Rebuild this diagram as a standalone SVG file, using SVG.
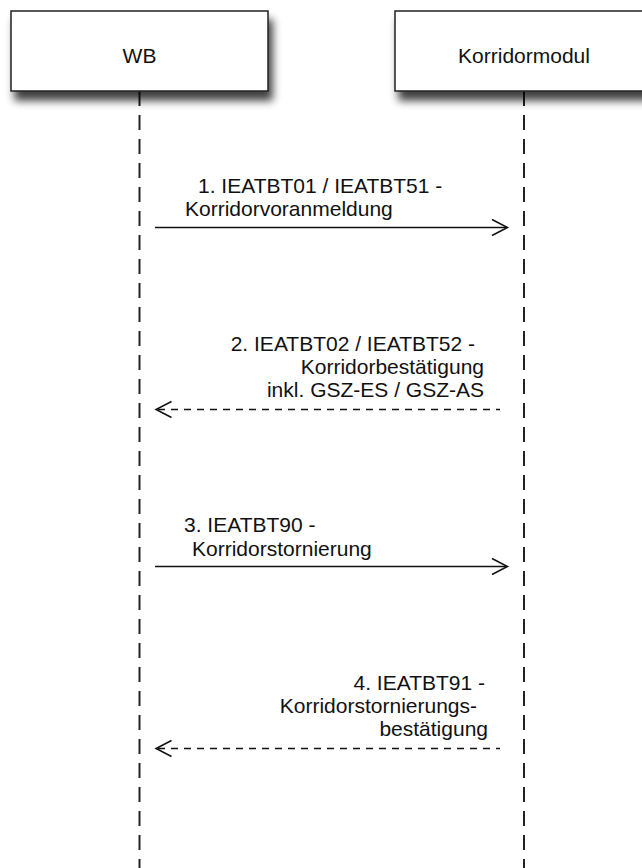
<svg xmlns="http://www.w3.org/2000/svg" width="642" height="868" viewBox="0 0 642 868">
<style>
text{font-family:"Liberation Sans",Arial,sans-serif;font-size:21px;fill:#111}
.r{text-anchor:end}
.box{fill:#fff;stroke:#222;stroke-width:1.5}
.life{stroke:#222;stroke-width:2;stroke-dasharray:15 9;fill:none}
.msg{stroke:#111;stroke-width:1.5;fill:none}
.dash{stroke-dasharray:7 6}
</style>
<defs>
<filter id="sh" x="-10%" y="-20%" width="130%" height="170%">
<feDropShadow dx="4" dy="9" stdDeviation="4.5" flood-color="#000" flood-opacity="0.75"/>
</filter>
</defs>
<g id="lifelines">
<line class="life" x1="139.5" y1="91" x2="139.5" y2="868"/>
<line class="life" x1="524" y1="91" x2="524" y2="868"/>
</g>
<g id="node-wb">
<rect class="box" x="11" y="11" width="257" height="80" filter="url(#sh)"/>
<text x="139.5" y="63" text-anchor="middle">WB</text>
</g>
<g id="node-korridormodul">
<rect class="box" x="395" y="11" width="258" height="80" filter="url(#sh)"/>
<text x="524" y="63" text-anchor="middle">Korridormodul</text>
</g>
<g id="connectors">
<line class="msg" x1="155" y1="227.5" x2="507" y2="227.5"/>
<polyline class="msg" points="492,219.5 507.5,227.5 492,235.5"/>
<line class="msg dash" x1="158" y1="409.5" x2="500" y2="409.5"/>
<polyline class="msg" points="171.5,401.5 156,409.5 171.5,417.5"/>
<line class="msg" x1="155" y1="566.5" x2="507" y2="566.5"/>
<polyline class="msg" points="492,558.5 507.5,566.5 492,574.5"/>
<line class="msg dash" x1="158" y1="748.5" x2="500" y2="748.5"/>
<polyline class="msg" points="171.5,740.5 156,748.5 171.5,756.5"/>
</g>
<g id="labels">
<text x="198" y="193">1. IEATBT01 / IEATBT51 -</text>
<text x="185" y="216">Korridorvoranmeldung</text>
<text class="r" x="475" y="351">2. IEATBT02 / IEATBT52 -</text>
<text class="r" x="484" y="374">Korridorbestätigung</text>
<text class="r" x="484" y="397">inkl. GSZ-ES / GSZ-AS</text>
<text x="184" y="532">3. IEATBT90 -</text>
<text x="192" y="556">Korridorstornierung</text>
<text class="r" x="485" y="690">4. IEATBT91 -</text>
<text class="r" x="477" y="713">Korridorstornierungs-</text>
<text class="r" x="488" y="736">bestätigung</text>
</g>
</svg>
